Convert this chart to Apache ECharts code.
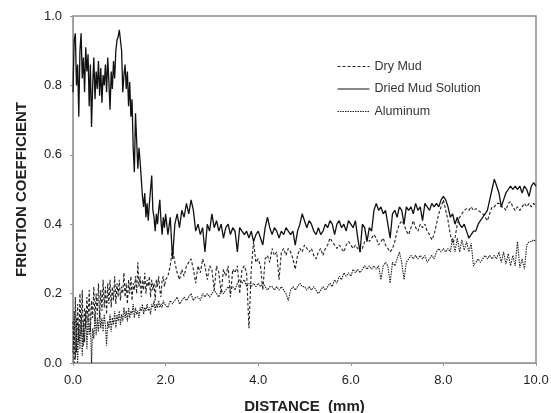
<!DOCTYPE html>
<html>
<head>
<meta charset="utf-8">
<script src="https://cdn.jsdelivr.net/npm/echarts@6/dist/echarts.min.js"></script>
<style>
html,body{margin:0;padding:0;background:#fff;}
#chart{width:551px;height:413px;}
</style>
</head>
<body>
<div id="chart"></div>
<script>
const xTicks = ['0.0','2.0','4.0','6.0','8.0','10.0'];
const yTicks = ['0.0','0.2','0.4','0.6','0.8','1.0'];
const distance = [
0,0.025,0.05,0.075,0.1,0.125,0.15,0.175,0.2,0.225,0.25,0.275,0.3,0.325,0.35,0.375,0.4,0.425,0.45,0.475,
0.5,0.525,0.55,0.575,0.6,0.625,0.65,0.675,0.7,0.725,0.75,0.775,0.8,0.825,0.85,0.875,0.9,0.925,0.95,0.975,
1,1.025,1.05,1.075,1.1,1.125,1.15,1.175,1.2,1.225,1.25,1.275,1.3,1.325,1.35,1.375,1.4,1.425,1.45,1.475,
1.5,1.525,1.55,1.575,1.6,1.625,1.65,1.675,1.7,1.725,1.75,1.775,1.8,1.825,1.85,1.875,1.9,1.925,1.95,1.975,
2,2.05,2.1,2.15,2.2,2.25,2.3,2.35,2.4,2.45,2.5,2.55,2.6,2.65,2.7,2.75,2.8,2.85,2.9,2.95,
3,3.05,3.1,3.15,3.2,3.25,3.3,3.35,3.4,3.45,3.5,3.55,3.6,3.65,3.7,3.75,3.8,3.85,3.9,3.95,
4,4.05,4.1,4.15,4.2,4.25,4.3,4.35,4.4,4.45,4.5,4.55,4.6,4.65,4.7,4.75,4.8,4.85,4.9,4.95,
5,5.05,5.1,5.15,5.2,5.25,5.3,5.35,5.4,5.45,5.5,5.55,5.6,5.65,5.7,5.75,5.8,5.85,5.9,5.95,
6,6.05,6.1,6.15,6.2,6.25,6.3,6.35,6.4,6.45,6.5,6.55,6.6,6.65,6.7,6.75,6.8,6.85,6.9,6.95,
7,7.05,7.1,7.15,7.2,7.25,7.3,7.35,7.4,7.45,7.5,7.55,7.6,7.65,7.7,7.75,7.8,7.85,7.9,7.95,
8,8.05,8.1,8.15,8.2,8.25,8.3,8.35,8.4,8.45,8.5,8.55,8.6,8.65,8.7,8.75,8.8,8.85,8.9,8.95,
9,9.05,9.1,9.15,9.2,9.25,9.3,9.35,9.4,9.45,9.5,9.55,9.6,9.65,9.7,9.75,9.8,9.85,9.9,9.95,
10];
const driedMudSolution = [
0.78,0.93,0.95,0.80,0.86,0.71,0.90,0.95,0.82,0.88,0.78,0.91,0.84,0.89,0.74,0.86,0.68,0.80,0.88,0.76,
0.84,0.79,0.87,0.77,0.85,0.75,0.83,0.80,0.86,0.78,0.88,0.81,0.73,0.84,0.79,0.87,0.82,0.90,0.93,0.94,
0.96,0.93,0.90,0.78,0.83,0.86,0.79,0.84,0.74,0.81,0.71,0.76,0.62,0.55,0.72,0.64,0.56,0.62,0.58,0.53,
0.48,0.45,0.49,0.42,0.46,0.41,0.46,0.50,0.54,0.44,0.42,0.38,0.43,0.40,0.44,0.47,0.41,0.37,0.42,0.39,
0.43,0.37,0.42,0.30,0.40,0.43,0.39,0.44,0.42,0.46,0.43,0.47,0.44,0.38,0.40,0.37,0.39,0.32,0.40,0.38,
0.43,0.39,0.41,0.38,0.40,0.36,0.39,0.40,0.37,0.39,0.38,0.32,0.39,0.38,0.37,0.38,0.36,0.38,0.35,0.37,
0.38,0.36,0.34,0.39,0.42,0.39,0.37,0.39,0.38,0.36,0.38,0.37,0.39,0.38,0.37,0.38,0.34,0.38,0.40,0.43,
0.41,0.39,0.41,0.40,0.38,0.37,0.39,0.37,0.38,0.40,0.39,0.41,0.40,0.37,0.40,0.41,0.39,0.40,0.38,0.41,
0.40,0.39,0.41,0.36,0.32,0.40,0.39,0.35,0.39,0.38,0.44,0.46,0.44,0.45,0.43,0.44,0.40,0.36,0.43,0.44,
0.42,0.45,0.44,0.40,0.45,0.44,0.45,0.43,0.46,0.44,0.45,0.41,0.46,0.45,0.44,0.46,0.45,0.46,0.45,0.47,
0.48,0.47,0.45,0.42,0.43,0.40,0.42,0.40,0.39,0.40,0.38,0.36,0.37,0.38,0.38,0.40,0.41,0.42,0.43,0.44,
0.47,0.50,0.53,0.51,0.49,0.45,0.47,0.49,0.50,0.51,0.50,0.51,0.50,0.51,0.49,0.51,0.50,0.48,0.51,0.52,
0.51];
const dryMud = [
0.12,0.00,0.19,0.03,0.17,0.06,0.20,0.08,0.21,0.05,0.16,0.10,0.19,0.12,0.21,0.09,0.18,0.13,0.22,0.12,
0.20,0.14,0.23,0.13,0.21,0.15,0.24,0.16,0.22,0.14,0.23,0.17,0.24,0.16,0.22,0.18,0.25,0.17,0.23,0.19,
0.24,0.18,0.22,0.20,0.26,0.19,0.23,0.17,0.24,0.20,0.25,0.18,0.23,0.21,0.25,0.20,0.29,0.22,0.25,0.19,
0.24,0.21,0.26,0.20,0.24,0.22,0.25,0.19,0.24,0.21,0.23,0.18,0.24,0.22,0.25,0.21,0.19,0.24,0.25,0.22,
0.24,0.25,0.28,0.33,0.29,0.26,0.24,0.27,0.25,0.28,0.29,0.30,0.27,0.23,0.28,0.26,0.30,0.28,0.24,0.28,
0.27,0.21,0.28,0.26,0.20,0.27,0.25,0.28,0.19,0.27,0.26,0.28,0.20,0.27,0.28,0.26,0.10,0.27,0.35,0.29,
0.30,0.28,0.21,0.30,0.31,0.29,0.33,0.31,0.32,0.24,0.32,0.33,0.31,0.33,0.32,0.30,0.27,0.31,0.33,0.32,
0.34,0.33,0.32,0.33,0.31,0.30,0.32,0.33,0.31,0.33,0.34,0.36,0.35,0.34,0.33,0.34,0.33,0.32,0.34,0.35,
0.34,0.33,0.34,0.33,0.32,0.33,0.35,0.36,0.35,0.36,0.37,0.36,0.34,0.35,0.36,0.34,0.33,0.32,0.33,0.35,
0.38,0.40,0.41,0.40,0.38,0.37,0.39,0.41,0.39,0.38,0.40,0.39,0.40,0.38,0.37,0.355,0.37,0.40,0.43,0.45,
0.47,0.44,0.41,0.37,0.345,0.36,0.40,0.42,0.43,0.44,0.445,0.44,0.45,0.44,0.445,0.44,0.435,0.43,0.42,0.41,
0.43,0.45,0.45,0.46,0.46,0.45,0.45,0.44,0.46,0.465,0.45,0.44,0.45,0.44,0.45,0.46,0.45,0.46,0.45,0.46,
0.45];
const aluminum = [
0.03,0.15,0.01,0.13,0.00,0.11,0.04,0.14,0.02,0.12,0.06,0.15,0.04,0.13,0.08,0.12,0.00,0.10,0.07,0.14,
0.08,0.13,0.09,0.15,0.10,0.13,0.09,0.14,0.11,0.05,0.12,0.10,0.14,0.09,0.13,0.11,0.15,0.10,0.14,0.12,
0.15,0.11,0.14,0.12,0.16,0.13,0.15,0.12,0.16,0.13,0.15,0.14,0.17,0.13,0.16,0.14,0.15,0.13,0.16,0.15,
0.17,0.14,0.16,0.15,0.17,0.15,0.16,0.14,0.17,0.16,0.18,0.15,0.17,0.16,0.18,0.16,0.17,0.16,0.18,0.17,
0.17,0.16,0.18,0.17,0.18,0.19,0.17,0.18,0.19,0.18,0.19,0.20,0.18,0.19,0.19,0.18,0.20,0.19,0.20,0.19,
0.20,0.21,0.20,0.19,0.21,0.20,0.21,0.22,0.21,0.22,0.21,0.23,0.24,0.23,0.24,0.22,0.23,0.22,0.23,0.22,
0.23,0.22,0.23,0.22,0.21,0.22,0.22,0.21,0.22,0.21,0.22,0.21,0.20,0.18,0.21,0.22,0.21,0.22,0.23,0.22,
0.22,0.21,0.22,0.21,0.22,0.21,0.20,0.21,0.22,0.21,0.22,0.23,0.22,0.24,0.23,0.25,0.24,0.26,0.25,0.26,
0.25,0.27,0.26,0.27,0.26,0.27,0.28,0.27,0.28,0.27,0.28,0.27,0.28,0.24,0.28,0.29,0.28,0.23,0.29,0.28,
0.30,0.32,0.29,0.24,0.29,0.30,0.31,0.30,0.31,0.30,0.31,0.30,0.31,0.29,0.30,0.31,0.30,0.32,0.33,0.32,
0.33,0.32,0.33,0.32,0.36,0.32,0.36,0.32,0.355,0.325,0.35,0.32,0.345,0.28,0.29,0.30,0.29,0.30,0.31,0.30,
0.31,0.30,0.31,0.30,0.32,0.29,0.32,0.285,0.315,0.28,0.31,0.28,0.35,0.275,0.30,0.27,0.34,0.35,0.35,0.355,
0.35];

function pairs(vals){ return distance.map((d,i)=>[d, vals[i]]); }

const chart = echarts.init(document.getElementById('chart'), null, {renderer:'canvas'});
const FONT = 'Liberation Sans, Arial, sans-serif';
chart.setOption({
  animation:false,
  backgroundColor:'#fff',
  grid:{left:73, right:15, top:16, bottom:50, show:true, borderColor:'#8c8c8c', borderWidth:1.5,
    backgroundColor:'transparent', containLabel:false, outerBoundsMode:'none'},
  legend:{
    orient:'vertical', left:332, top:55, itemWidth:32, itemHeight:14, itemGap:9.5,
    itemStyle:{opacity:0},
    lineStyle:{width:1},
    textStyle:{fontFamily:FONT, fontSize:12.5, color:'#333'},
    data:['Dry Mud','Dried Mud Solution','Aluminum']
  },
  xAxis:{
    type:'value', min:0, max:10, interval:2,
    name:'DISTANCE  (mm)', nameLocation:'middle', nameGap:36,
    nameTextStyle:{fontFamily:FONT, fontSize:15, fontWeight:'bold', color:'#222'},
    axisLine:{lineStyle:{color:'#999', width:1}},
    axisTick:{show:true, length:3, lineStyle:{color:'#999'}},
    axisLabel:{fontFamily:FONT, fontSize:13, color:'#222', margin:11,
      formatter:v=>xTicks[Math.round(v/2)]},
    splitLine:{show:false}
  },
  yAxis:{
    type:'value', min:0, max:1, interval:0.2,
    name:'FRICTION COEFFICIENT', nameLocation:'middle', nameGap:44,
    nameTextStyle:{fontFamily:FONT, fontSize:15, fontWeight:'bold', color:'#222'},
    axisLine:{show:true, lineStyle:{color:'#999', width:1}},
    axisTick:{show:true, length:3, lineStyle:{color:'#999'}},
    axisLabel:{fontFamily:FONT, fontSize:13, color:'#222', margin:11,
      formatter:v=>yTicks[Math.round(v*5)]},
    splitLine:{show:false}
  },
  series:[
    {name:'Dry Mud', type:'line', data:pairs(dryMud), symbol:'none', showSymbol:false,
      lineStyle:{color:'#222', width:1.1, type:[3,2]}, itemStyle:{color:'#222'}, z:2},
    {name:'Dried Mud Solution', type:'line', data:pairs(driedMudSolution), symbol:'none', showSymbol:false,
      lineStyle:{color:'#111', width:1.3, type:'solid'}, itemStyle:{color:'#111'}, z:3},
    {name:'Aluminum', type:'line', data:pairs(aluminum), symbol:'none', showSymbol:false,
      lineStyle:{color:'#222', width:1.1, type:[1.5,1]}, itemStyle:{color:'#222'}, z:2}
  ]
});
</script>
</body>
</html>
